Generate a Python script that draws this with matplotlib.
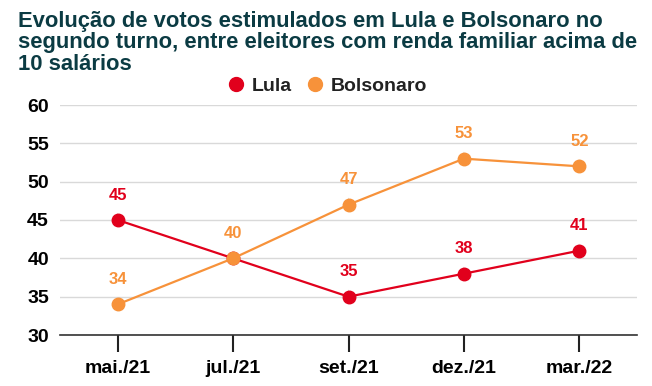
import matplotlib
matplotlib.use("Agg")
import matplotlib.pyplot as plt
from matplotlib.lines import Line2D

categories = ["mai./21", "jul./21", "set./21", "dez./21", "mar./22"]
lula = [45, 40, 35, 38, 41]
bolsonaro = [34, 40, 47, 53, 52]
yticks = [30, 35, 40, 45, 50, 55, 60]

c_lula = "#e1001c"
c_bolso = "#f7923a"
title_color = "#0b3b43"

plt.rcParams['font.family'] = ['Liberation Sans', 'DejaVu Sans']

fig = plt.figure(figsize=(6.52, 3.86), dpi=100)
ax = fig.add_axes([60/652, 1-335/386, 577/652, 230/386])

x = list(range(len(categories)))
ax.plot(x, lula, color=c_lula, lw=1.6, marker='o', ms=9, zorder=3)
ax.plot(x, bolsonaro, color=c_bolso, lw=1.6, marker='o', ms=9, zorder=3)

off = 18  # points (~25 px)
for series, other, col in ((lula, bolsonaro, c_lula), (bolsonaro, None, c_bolso)):
    for i, (xi, v) in enumerate(zip(x, series)):
        if other is not None and other[i] == v:
            continue  # overlapping label hidden under the other series
        ax.annotate(str(v), (xi, v), xytext=(0, off), textcoords='offset points',
                    ha='center', va='center', color=col, fontsize=12, fontweight='bold',
                    arrowprops=dict(arrowstyle='-', color='#e3e3e3', lw=0.8, shrinkA=6, shrinkB=0),
                    zorder=2)

ax.set_xlim(-0.5, 4.5)
ax.set_ylim(30, 60)
ax.set_yticks(yticks)
ax.set_xticks(x)
ax.set_xticklabels(categories, fontweight='bold', fontsize=14)
ax.set_yticklabels([str(t) for t in yticks], fontweight='bold', fontsize=14)
ax.grid(axis='y', color='#d9d9d9', lw=1)
ax.set_axisbelow(True)
for s in ['top', 'right', 'left']:
    ax.spines[s].set_visible(False)
ax.spines['bottom'].set_color('#333333')
ax.spines['bottom'].set_linewidth(1.2)
ax.tick_params(axis='x', length=12, width=1.5, color='#222222', pad=6)
ax.tick_params(axis='y', length=0, pad=8)

fig.text(18/652, 1-11/386, "Evolução de votos estimulados em Lula e Bolsonaro no\nsegundo turno, entre eleitores com renda familiar acima de\n10 salários",
         ha='left', va='top', fontsize=15.8, fontweight='bold', color=title_color, linespacing=1.02)

handles = [Line2D([], [], marker='o', color=c_lula, ls='none', ms=10),
           Line2D([], [], marker='o', color=c_bolso, ls='none', ms=10)]
leg = fig.legend(handles, ["Lula", "Bolsonaro"], loc='center', bbox_to_anchor=(326/652, 1-86/386),
                 ncol=2, frameon=False, prop={'weight': 'bold', 'size': 14},
                 handletextpad=0.2, columnspacing=0.6, handlelength=1.2, borderpad=0.1)
for t in leg.get_texts():
    t.set_color('#222222')

fig.savefig("out.png", dpi=100)
